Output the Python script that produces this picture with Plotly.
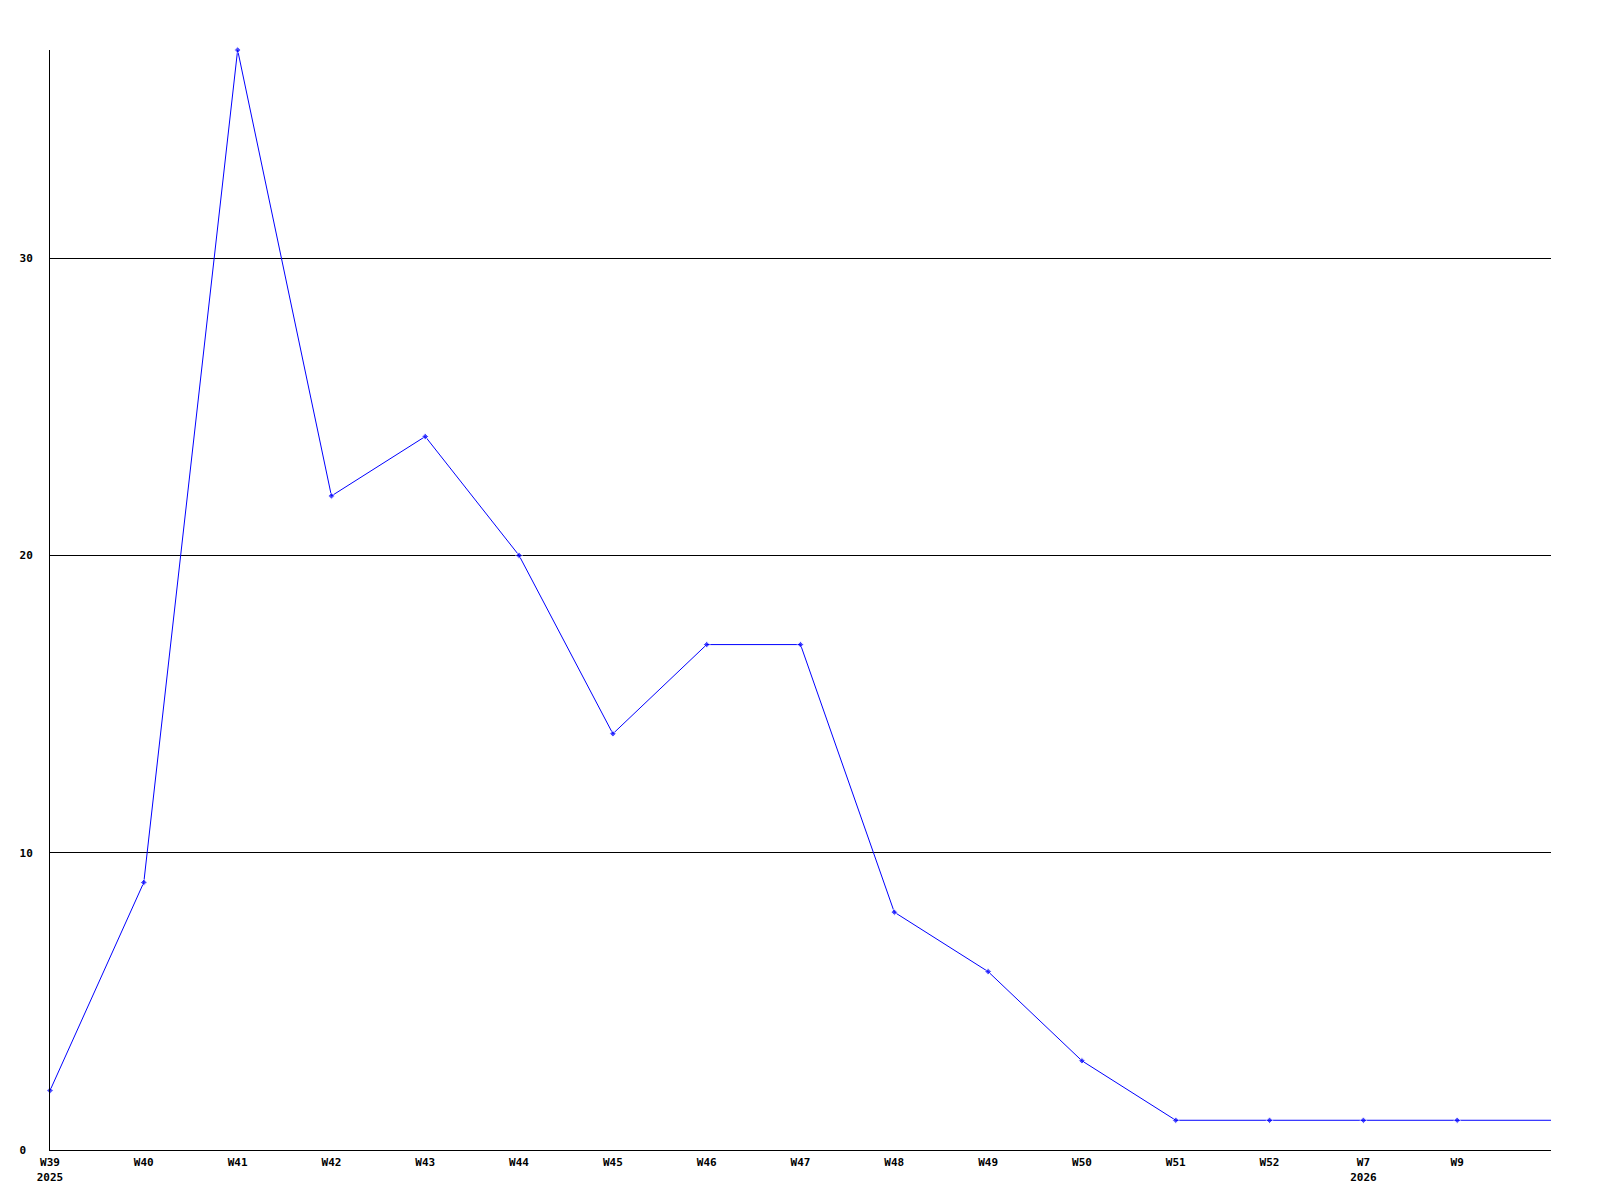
import plotly.graph_objects as go

weeks = ["W39", "W40", "W41", "W42", "W43", "W44", "W45", "W46", "W47",
         "W48", "W49", "W50", "W51", "W52", "W7", "W9", ""]
tick_labels = ["W39<br>2025", "W40", "W41", "W42", "W43", "W44", "W45", "W46", "W47",
               "W48", "W49", "W50", "W51", "W52", "W7<br>2026", "W9"]
values = [2, 9, 37, 22, 24, 20, 14, 17, 17, 8, 6, 3, 1, 1, 1, 1, 1]
y_ticks = [0, 10, 20, 30]
y_tick_labels = ["0\u00a0", "10", "20", "30"]

x = list(range(len(values)))
marker_sizes = [5] * (len(values) - 1) + [0]

fig = go.Figure()
fig.add_trace(go.Scatter(
    x=x, y=values, mode="lines+markers",
    line=dict(color="#0000ff", width=1),
    marker=dict(color="#0000ff", size=marker_sizes, symbol="diamond"),
    cliponaxis=False, showlegend=False,
))

font = dict(family="DejaVu Sans Mono", size=11, color="#000000", weight="bold")
fig.update_layout(
    width=1600, height=1200,
    margin=dict(l=42, r=57, t=42, b=58),
    paper_bgcolor="white", plot_bgcolor="white",
    font=font,
    xaxis=dict(
        range=[0, len(values) - 1], tickvals=x[:len(tick_labels)], ticktext=tick_labels,
        showgrid=False, zeroline=False, showline=True, linecolor="black", linewidth=1,
        ticks="", tickfont=font, ticklabelstandoff=2,
    ),
    yaxis=dict(
        range=[0, 37], tickvals=y_ticks, ticktext=y_tick_labels,
        showgrid=True, gridcolor="black", gridwidth=1, zeroline=False,
        showline=True, linecolor="black", linewidth=1,
        ticks="", tickfont=font, ticklabelstandoff=14,
    ),
)
fig.write_html("out.html")
